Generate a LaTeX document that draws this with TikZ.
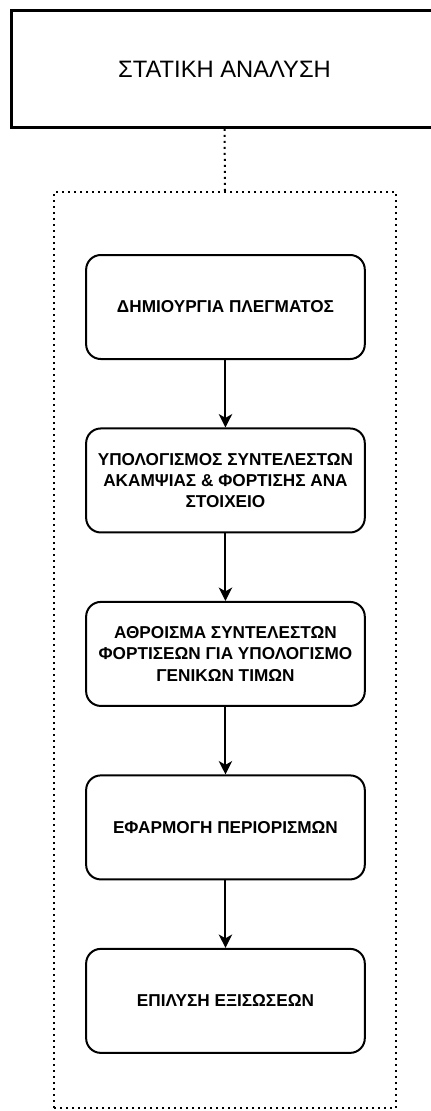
\documentclass[tikz,border=0pt]{standalone}
\usepackage{fontspec}
\setmainfont{Liberation Sans}
\usetikzlibrary{positioning, arrows.meta}
\tikzset{>={Stealth[length=10pt,width=10pt,inset=2.8pt]}}
\tikzset{
  titlebox/.style={draw, line width=2.2pt, minimum width=319.5pt, minimum height=87.75pt,
    font=\fontsize{17.8}{21}\selectfont},
  groupbox/.style={draw, line width=1.5pt, dash pattern=on 1.5pt off 3pt,
    minimum width=256.5pt, minimum height=687pt},
  stepbox/.style={draw, line width=1.5pt, rounded corners=11pt, minimum width=209pt,
    minimum height=78pt, align=center, inner sep=2pt,
    font=\bfseries\fontsize{12.9}{16}\selectfont},
  flow/.style={->, line width=1.5pt},
  link/.style={line width=1.5pt, dash pattern=on 1.5pt off 3pt}
}

\begin{document}
\begin{tikzpicture}[node distance=50.6pt]
  \useasboundingbox (0,0) rectangle (323.25pt,-833.25pt);
  % main block and its stage group
  \node [titlebox] (analysis) at (168.4pt,-51.75pt) {ΣΤΑΤΙΚΗ ΑΝΑΛΥΣΗ};
  \node [groupbox] (stage) at (168.75pt,-487.5pt) {};
  \draw [link] (analysis.south) -- (stage.north);
  % steps
  \node [stepbox] (mesh) at (169.1pt,-230.25pt) {ΔΗΜΙΟΥΡΓΙΑ ΠΛΕΓΜΑΤΟΣ};
  \node [stepbox, below=of mesh] (coeff) {ΥΠΟΛΟΓΙΣΜΟΣ ΣΥΝΤΕΛΕΣΤΩΝ\\ΑΚΑΜΨΙΑΣ \& ΦΟΡΤΙΣΗΣ ΑΝΑ\\ΣΤΟΙΧΕΙΟ};
  \node [stepbox, below=of coeff] (assembly) {ΑΘΡΟΙΣΜΑ ΣΥΝΤΕΛΕΣΤΩΝ\\ΦΟΡΤΙΣΕΩΝ ΓΙΑ ΥΠΟΛΟΓΙΣΜΟ\\ΓΕΝΙΚΩΝ ΤΙΜΩΝ};
  \node [stepbox, below=of assembly] (bounds) {ΕΦΑΡΜΟΓΗ ΠΕΡΙΟΡΙΣΜΩΝ};
  \node [stepbox, below=of bounds] (solve) {ΕΠΙΛΥΣΗ ΕΞΙΣΩΣΕΩΝ};
  \draw [flow] (mesh) -- (coeff);
  \draw [flow] (coeff) -- (assembly);
  \draw [flow] (assembly) -- (bounds);
  \draw [flow] (bounds) -- (solve);
\end{tikzpicture}
\end{document}
